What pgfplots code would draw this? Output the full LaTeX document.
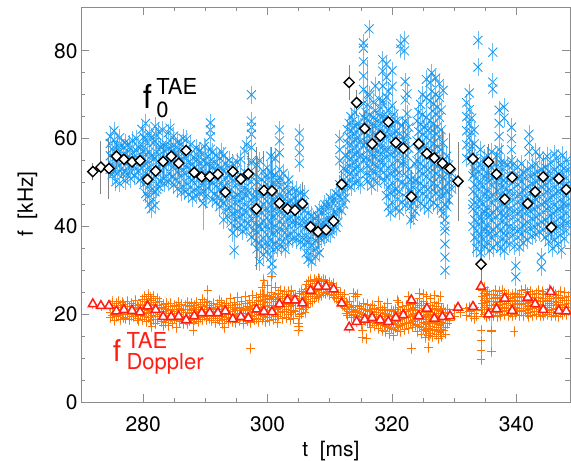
\documentclass[border=0pt]{standalone}
\usepackage{fontspec}
\setmainfont{TeX Gyre Heros}
\usepackage{pgfplots}
\usepackage{pgfplotstable}
\pgfplotsset{compat=1.18}
\definecolor{bluex}{RGB}{20,152,240}
\definecolor{blueerr}{RGB}{105,188,245}
\definecolor{orangep}{RGB}{255,115,0}
\definecolor{orangeerr}{RGB}{255,155,75}
\definecolor{redt}{RGB}{255,30,20}
\definecolor{axisgray}{RGB}{140,140,140}
\definecolor{diaerr}{RGB}{130,130,130}

\pgfdeclareplotmark{xbar}{%
  \pgfsetstrokecolor{blueerr}%
  \pgfpathmoveto{\pgfqpoint{0pt}{-9pt}}\pgfpathlineto{\pgfqpoint{0pt}{9pt}}%
  \pgfusepathqstroke
  \pgfsetstrokecolor{bluex}%
  \pgfpathmoveto{\pgfqpoint{-\pgfplotmarksize}{-\pgfplotmarksize}}%
  \pgfpathlineto{\pgfqpoint{\pgfplotmarksize}{\pgfplotmarksize}}%
  \pgfpathmoveto{\pgfqpoint{-\pgfplotmarksize}{\pgfplotmarksize}}%
  \pgfpathlineto{\pgfqpoint{\pgfplotmarksize}{-\pgfplotmarksize}}%
  \pgfusepathqstroke
}
\pgfdeclareplotmark{pbar}{%
  \pgfsetstrokecolor{orangeerr}%
  \pgfpathmoveto{\pgfqpoint{0pt}{-5.5pt}}\pgfpathlineto{\pgfqpoint{0pt}{5.5pt}}%
  \pgfusepathqstroke
  \pgfsetstrokecolor{orangep}%
  \pgfpathmoveto{\pgfqpoint{-\pgfplotmarksize}{0pt}}%
  \pgfpathlineto{\pgfqpoint{\pgfplotmarksize}{0pt}}%
  \pgfpathmoveto{\pgfqpoint{0pt}{-\pgfplotmarksize}}%
  \pgfpathlineto{\pgfqpoint{0pt}{\pgfplotmarksize}}%
  \pgfusepathqstroke
}

\pgfplotstableread{
t y1 y2 y3 y4 y5 y6
274.7 56.1 58.9 53.0 60.5 nan nan
275.0 54.2 57.6 51.8 nan nan nan
275.3 55.5 59.7 52.6 61.8 nan nan
275.6 53.4 56.8 50.2 nan nan nan
275.9 55.9 58.4 52.1 nan nan nan
276.2 54.0 57.1 49.8 60.2 nan nan
276.5 53.1 55.6 58.5 nan nan nan
276.8 51.9 54.8 57.9 nan nan nan
277.1 52.8 56.3 59.1 50.4 nan nan
277.4 54.5 57.4 52.0 nan nan nan
277.7 53.7 56.0 58.8 nan nan nan
278.0 52.4 55.2 57.7 50.9 nan nan
278.3 54.1 56.9 59.6 nan nan nan
278.6 53.2 55.8 51.5 nan nan nan
278.9 54.6 57.3 60.0 nan nan nan
279.2 52.7 55.4 58.1 nan nan nan
279.5 53.9 56.5 50.6 nan nan nan
279.8 51.2 55.0 58.3 62.1 nan nan
280.1 49.6 53.8 57.2 60.4 nan nan
280.4 47.5 52.1 56.4 59.8 63.5 nan
280.7 46.8 50.3 54.7 58.9 nan nan
281.0 45.1 49.4 53.5 57.0 61.2 nan
281.3 44.0 48.2 52.6 56.1 60.3 nan
281.6 46.2 50.8 55.3 59.1 nan nan
281.9 44.8 47.9 51.5 55.6 59.4 62.8
282.2 48.5 52.9 56.8 60.7 nan nan
282.5 49.1 53.3 57.5 61.6 nan nan
282.8 50.2 54.1 58.0 nan nan nan
283.1 51.0 54.9 58.6 62.0 nan nan
283.4 49.8 53.6 57.3 nan nan nan
283.7 51.4 55.2 58.7 nan nan nan
284.0 50.1 54.3 57.8 61.3 nan nan
284.3 52.2 56.0 59.5 62.4 nan nan
284.6 51.3 54.8 58.2 nan nan nan
284.9 49.5 53.7 57.1 60.6 nan nan
285.2 50.8 54.5 58.0 nan nan nan
285.5 48.6 52.4 56.3 59.2 nan nan
285.8 50.0 53.9 57.6 nan nan nan
286.1 47.8 51.6 55.4 58.8 nan nan
286.4 49.2 53.0 56.7 60.1 nan nan
286.7 48.0 52.0 55.9 nan nan nan
287.0 49.7 53.5 57.4 59.9 nan nan
287.3 47.3 51.1 54.6 nan nan nan
287.6 48.9 52.8 56.5 58.6 nan nan
287.9 46.5 50.5 54.2 nan nan nan
288.2 48.3 52.3 55.8 nan nan nan
288.5 47.1 51.4 54.9 57.9 nan nan
288.8 49.0 52.6 56.1 nan nan nan
289.1 47.6 51.2 54.6 57.3 nan nan
289.4 49.4 53.1 56.4 nan nan nan
289.6 45.3 nan nan nan nan nan
289.8 48.0 51.7 55.0 58.2 nan nan
290.1 46.9 50.6 54.3 nan nan nan
290.4 48.7 52.4 56.0 nan nan nan
290.8 50.3 54.8 57.6 60.4 62.0 63.6
291.1 46.2 49.9 53.5 56.9 nan nan
291.4 47.4 51.3 54.7 nan nan nan
291.7 45.6 49.2 52.8 56.2 nan nan
292.0 46.8 50.5 54.0 nan nan nan
292.3 44.5 48.4 52.2 55.5 nan nan
292.6 46.0 49.8 53.3 57.0 nan nan
292.9 41.5 45.2 48.9 52.6 56.1 nan
293.2 43.8 47.5 51.1 54.4 nan nan
293.5 42.4 46.3 50.0 53.8 nan nan
293.8 44.2 47.9 51.6 55.1 nan nan
294.1 40.8 44.6 48.4 52.0 nan nan
294.4 38.5 42.9 46.7 50.5 54.3 nan
294.6 34.6 nan nan nan nan nan
294.8 41.7 45.5 49.3 52.9 nan nan
295.1 39.6 43.4 47.2 51.0 54.7 nan
295.4 42.1 45.8 49.7 nan nan nan
295.7 40.3 44.1 47.8 51.6 55.3 nan
296.0 38.9 42.7 46.4 50.2 nan nan
296.3 41.2 45.0 48.8 52.4 57.2 nan
296.6 39.4 43.3 47.0 50.8 58.6 nan
296.9 40.7 44.5 48.1 52.0 nan nan
297.4 37.6 41.8 46.0 50.2 54.5 58.0
297.4 61.0 62.6 64.0 70.0 nan nan
297.7 39.1 43.0 46.6 nan nan nan
298.0 36.8 40.5 44.3 48.0 51.8 nan
298.3 34.9 38.7 42.6 46.4 50.1 54.0
298.7 32.0 36.2 40.1 44.0 47.7 55.0
299.0 35.5 39.3 43.1 46.9 50.7 nan
299.3 33.6 37.4 41.3 45.1 48.9 52.6
299.6 36.0 39.9 43.7 47.5 51.3 nan
299.9 34.3 38.2 42.0 45.8 49.6 53.4
300.2 35.8 39.6 43.4 47.2 51.1 nan
300.5 33.0 36.9 40.8 44.7 48.5 52.3
300.5 56.0 nan nan nan nan nan
300.7 30.0 31.5 nan nan nan nan
300.9 34.7 38.5 42.4 46.2 50.0 nan
301.2 36.3 40.2 44.0 47.9 51.7 55.5
301.5 35.1 38.9 42.8 46.6 50.4 nan
301.9 37.0 41.0 45.0 49.0 53.0 56.8
301.9 59.5 62.0 nan nan nan nan
302.2 35.4 39.2 43.1 46.9 50.8 nan
302.5 36.6 40.4 44.3 48.2 52.1 nan
302.8 34.8 38.6 42.5 46.3 nan nan
303.1 37.8 41.6 45.4 49.2 nan nan
303.4 36.5 40.3 44.1 47.9 50.6 nan
303.7 38.4 42.2 46.0 nan nan nan
304.0 37.1 40.9 44.8 48.5 nan nan
304.3 38.9 42.7 46.5 nan nan nan
304.6 36.9 40.7 44.5 48.2 nan nan
304.9 38.0 41.9 45.7 nan nan nan
305.1 54.4 56.8 59.0 61.3 nan nan
305.3 36.4 40.2 44.0 47.6 nan nan
305.6 37.5 41.4 45.1 nan nan nan
305.9 35.9 39.8 43.6 47.3 nan nan
306.2 34.0 37.6 41.2 nan nan nan
306.5 32.5 36.3 40.0 43.0 nan nan
306.8 33.8 37.4 41.1 nan nan nan
307.1 32.0 35.7 39.4 42.5 nan nan
307.4 34.6 38.2 41.8 nan nan nan
307.7 33.1 36.8 40.5 nan nan nan
308.0 35.2 38.9 42.3 nan nan nan
308.3 34.0 37.5 41.0 43.8 nan nan
308.6 37.2 40.1 43.0 nan nan nan
308.9 38.0 41.0 44.0 nan nan nan
309.2 37.5 40.6 43.6 45.0 nan nan
309.5 38.6 41.6 44.4 nan nan nan
309.8 39.0 42.0 45.2 nan nan nan
310.1 38.3 41.4 44.5 46.5 nan nan
310.4 39.5 42.5 45.6 nan nan nan
310.7 40.2 43.3 46.3 nan nan nan
311.0 39.8 42.8 45.9 47.5 nan nan
311.3 41.0 44.0 47.0 nan nan nan
311.6 44.0 46.8 49.5 55.0 57.5 60.0
311.9 43.6 46.2 49.0 nan nan nan
312.2 45.1 47.9 50.6 53.2 nan nan
312.5 46.5 49.8 52.8 56.1 nan nan
312.8 49.3 52.5 55.8 59.0 62.1 nan
313.1 50.6 53.9 57.2 60.4 63.5 nan
313.4 49.0 52.2 55.5 58.7 61.8 65.0
313.7 51.1 54.4 57.6 60.9 64.0 nan
314.0 50.0 53.2 56.5 59.8 63.0 66.0
314.3 51.8 55.0 58.3 61.5 nan nan
314.6 50.4 53.7 57.0 60.2 63.4 nan
314.9 49.5 52.8 56.1 59.4 62.6 nan
315.4 55.2 58.5 61.7 64.9 68.0 71.2
315.4 74.3 77.5 80.6 81.8 nan nan
316.3 85.0 nan nan nan nan nan
315.8 52.0 55.6 59.1 62.5 66.0 nan
316.1 50.3 53.9 57.4 60.8 64.3 67.7
316.4 51.6 55.1 58.6 62.1 65.5 70.0
316.7 49.2 52.8 56.3 59.7 63.2 nan
317.0 50.8 54.4 57.9 61.4 64.8 68.3
317.3 52.5 56.0 59.5 63.0 66.4 72.0
317.6 49.9 53.5 57.0 60.5 64.0 nan
317.9 51.3 54.9 58.4 61.9 65.3 69.0
318.2 53.0 56.6 60.1 63.6 67.0 nan
318.5 55.0 58.4 61.8 65.2 68.6 72.0
318.5 75.4 78.0 nan nan nan nan
318.8 50.5 54.1 57.6 61.0 64.5 nan
319.1 47.0 51.5 56.0 60.5 65.0 69.5
319.1 74.0 77.0 nan nan nan nan
319.4 44.5 48.8 53.2 57.6 62.0 66.4
319.4 70.8 nan nan nan nan nan
319.7 43.2 47.6 52.0 56.4 60.8 nan
320.0 45.5 49.9 54.3 58.7 63.1 67.5
320.0 71.9 75.5 nan nan nan nan
320.3 48.0 52.4 56.8 61.2 65.6 nan
320.6 44.0 48.4 52.8 57.2 61.6 64.0
320.9 46.2 50.6 55.0 59.4 63.8 nan
321.2 43.5 47.9 52.3 56.7 61.1 nan
321.4 80.4 81.7 nan nan nan nan
321.6 45.6 50.0 54.4 58.8 63.0 nan
322.0 82.5 80.0 nan nan nan nan
322.1 44.8 49.6 54.4 59.2 64.0 68.8
322.1 73.0 nan nan nan nan nan
322.4 46.5 51.3 56.1 60.9 65.7 70.2
322.7 48.2 53.0 57.8 62.6 nan nan
323.0 41.5 44.6 47.8 50.6 nan nan
323.4 42.3 45.4 48.9 nan nan nan
323.7 43.5 47.0 50.5 54.2 nan nan
324.0 46.0 50.5 55.0 59.5 64.0 nan
324.3 48.2 52.6 57.1 61.6 66.0 nan
324.6 45.3 49.8 54.3 58.8 63.3 67.8
324.9 47.5 52.0 56.5 61.0 65.5 70.0
325.2 44.6 49.1 53.6 58.1 62.6 nan
325.5 46.8 51.3 55.8 60.3 64.8 69.3
325.5 73.5 nan nan nan nan nan
325.8 43.9 48.4 52.9 57.4 61.9 nan
326.1 46.1 50.6 55.1 59.6 64.1 68.6
326.1 72.8 nan nan nan nan nan
326.4 48.3 52.8 57.3 61.8 66.3 70.8
326.4 75.0 nan nan nan nan nan
326.7 45.4 49.9 54.4 58.9 63.4 67.9
327.0 47.6 52.1 56.6 61.1 65.6 70.1
327.0 73.8 nan nan nan nan nan
327.3 44.7 49.2 53.7 58.2 62.7 67.2
327.6 46.9 51.4 55.9 60.4 64.9 69.4
327.6 72.5 nan nan nan nan nan
327.9 44.0 48.5 53.0 57.5 62.0 66.5
328.2 43.0 47.0 51.0 55.0 59.0 71.0
328.5 30.0 33.0 36.0 39.0 41.5 45.0
328.5 49.0 nan nan nan nan nan
328.8 44.5 48.0 52.0 56.0 nan nan
329.1 46.0 50.0 54.0 nan nan nan
329.6 48.5 52.0 nan nan nan nan
330.2 50.0 nan nan nan nan nan
332.0 55.5 58.6 61.8 65.0 68.2 nan
332.4 57.0 60.2 63.4 66.6 70.4 nan
332.8 55.0 58.3 61.5 64.7 nan nan
333.2 52.0 55.5 58.8 62.0 nan nan
333.8 82.4 76.3 nan nan nan nan
336.2 79.7 72.9 71.3 nan nan nan
338.0 67.2 64.7 nan nan nan nan
333.0 40.0 44.0 48.0 51.5 nan nan
333.3 37.5 41.5 45.5 49.5 53.0 nan
333.6 35.0 39.0 43.0 47.0 51.0 55.0
333.9 36.5 40.5 44.5 48.5 52.5 nan
334.2 34.0 38.0 42.0 46.0 50.0 54.0
334.2 57.5 nan nan nan nan nan
334.5 37.0 41.0 45.0 49.0 53.0 nan
334.8 35.5 39.5 43.5 47.5 51.5 55.5
335.1 38.5 42.5 46.5 50.5 54.5 nan
335.4 36.0 40.0 44.0 48.0 52.0 56.0
335.7 34.5 38.5 42.5 46.5 50.5 nan
336.0 37.5 41.5 45.5 49.5 53.5 57.0
336.3 35.2 39.2 43.2 47.2 51.2 nan
336.6 38.0 42.0 46.0 50.0 54.0 nan
336.9 36.2 40.2 44.2 48.2 52.2 56.2
337.2 57.5 60.5 63.5 66.5 nan nan
337.4 35.0 39.0 43.0 47.0 51.0 54.5
337.7 37.0 41.0 45.0 49.0 53.0 nan
338.0 34.5 38.5 42.5 46.5 50.5 54.5
338.3 36.5 40.5 44.5 48.5 nan nan
338.6 38.5 42.5 46.5 50.5 54.0 nan
338.9 36.0 40.0 44.0 48.0 52.0 nan
339.2 55.0 57.5 60.0 62.6 nan nan
339.4 38.0 42.0 46.0 50.0 54.0 nan
339.7 35.5 39.5 43.5 47.5 51.5 nan
339.9 28.5 31.0 nan nan nan nan
340.2 37.5 41.5 45.5 49.5 53.5 nan
340.5 35.3 39.3 43.3 47.3 51.3 nan
340.8 38.3 42.3 46.3 50.3 54.3 nan
341.1 36.3 40.3 44.3 48.3 52.3 nan
341.4 39.0 43.0 47.0 51.0 nan nan
341.7 37.0 41.0 45.0 49.0 53.0 nan
342.0 57.0 59.0 61.0 nan nan nan
342.2 39.5 43.5 47.5 51.5 nan nan
342.5 37.8 41.8 45.8 49.8 53.8 nan
342.8 40.0 44.0 48.0 52.0 nan nan
343.1 38.2 42.2 46.2 50.2 54.2 57.0
343.4 40.5 44.5 48.5 52.5 nan nan
343.7 38.8 42.8 46.8 50.8 56.0 nan
344.0 30.8 33.0 41.0 45.0 49.0 53.0
344.3 39.2 43.2 47.2 51.2 nan nan
344.6 37.5 41.5 45.5 49.5 53.5 nan
344.9 40.0 44.0 48.0 52.0 56.0 nan
345.2 36.5 40.5 44.5 48.5 52.5 nan
345.5 38.5 42.5 46.5 50.5 54.5 nan
345.8 35.0 39.0 43.0 47.0 51.0 nan
346.1 37.0 41.0 45.0 49.0 53.0 56.5
346.4 39.5 43.5 47.5 51.5 55.5 nan
346.7 36.0 40.0 44.0 48.0 52.0 nan
347.0 38.0 42.0 46.0 50.0 54.0 nan
347.2 34.6 nan nan nan nan nan
347.4 40.2 44.2 48.2 52.2 56.2 nan
347.7 37.2 41.2 45.2 49.2 53.2 nan
348.0 39.0 43.0 47.0 51.0 55.0 nan
348.3 41.0 45.0 49.0 53.0 nan nan
}\bluedata

\pgfplotstableread{
t y e
289.6 45.3 6
294.6 40.0 6
298.7 40.0 10
300.7 42.0 13
301.9 50.0 12
297.4 55.0 10
290.0 52.0 8
296.3 48.0 7
316.0 70.0 8
318.5 68.0 9
320.0 65.0 10
322.1 60.0 11
325.5 63.0 9
328.5 40.0 11
333.0 45.0 12
337.5 50.0 9
341.0 45.0 8
345.0 46.0 8
347.5 45.0 7
}\bluelong

\pgfplotstableread{
t y1 y2 y3 y4 y5 y6
274.8 20.5 22.0 19.2 nan nan nan
275.1 21.3 19.8 22.8 nan nan nan
275.4 20.0 21.6 18.6 nan nan nan
275.7 20.9 22.4 19.5 nan nan nan
276.0 19.7 21.1 23.0 nan nan nan
276.3 20.4 21.9 18.9 nan nan nan
276.6 21.5 20.1 22.6 nan nan nan
276.9 19.3 20.8 22.2 nan nan nan
277.2 20.6 21.8 19.0 nan nan nan
277.5 21.2 22.9 19.9 nan nan nan
277.8 20.3 21.7 18.7 nan nan nan
278.1 19.6 21.0 22.5 nan nan nan
278.4 20.7 22.1 19.4 nan nan nan
278.7 21.4 20.0 23.2 nan nan nan
279.0 19.1 20.5 22.0 nan nan nan
279.3 20.2 21.5 18.5 nan nan nan
279.6 21.0 22.3 19.7 nan nan nan
279.9 20.4 21.9 23.4 18.8 nan nan
280.2 19.5 21.2 22.8 24.0 nan nan
280.5 20.1 21.7 23.3 18.3 nan nan
280.8 19.2 20.9 22.6 24.4 nan nan
281.1 18.6 20.3 22.0 23.7 nan nan
281.4 19.8 21.5 23.1 17.2 nan nan
281.7 18.9 20.6 22.3 24.0 nan nan
282.0 19.4 21.1 22.7 17.8 nan nan
282.3 18.7 20.4 22.1 23.6 nan nan
282.6 19.9 21.4 22.9 nan nan nan
282.9 18.4 20.0 21.6 nan nan nan
283.2 19.0 20.7 22.3 17.5 nan nan
283.5 18.2 19.8 21.3 nan nan nan
283.8 19.4 21.0 22.4 nan nan nan
284.1 18.6 20.2 21.8 17.4 nan nan
284.4 19.3 20.9 22.5 nan nan nan
284.7 18.0 19.6 21.2 nan nan nan
285.0 19.1 20.6 22.1 nan nan nan
285.3 18.5 20.1 21.7 17.0 nan nan
285.6 19.6 21.1 22.6 nan nan nan
285.9 18.3 19.9 21.4 nan nan nan
286.2 19.2 20.8 22.3 nan nan nan
286.5 17.8 19.4 21.0 nan nan nan
286.8 18.8 20.4 21.9 nan nan nan
287.1 17.9 19.5 21.1 22.6 nan nan
287.4 18.6 20.2 21.7 nan nan nan
287.7 19.3 20.9 22.4 nan nan nan
288.0 18.1 19.7 21.3 16.4 nan nan
288.3 18.9 20.5 22.0 nan nan nan
288.6 19.5 21.0 22.6 nan nan nan
288.9 18.4 20.0 21.5 nan nan nan
289.2 19.2 20.7 22.2 nan nan nan
289.5 18.7 20.3 21.8 23.3 nan nan
289.8 19.6 21.2 22.7 nan nan nan
290.1 18.8 20.4 21.9 nan nan nan
290.4 19.9 21.5 23.0 25.5 nan nan
290.7 19.0 20.6 22.1 nan nan nan
291.0 18.5 20.1 21.6 nan nan nan
291.3 19.4 21.0 22.5 nan nan nan
291.6 18.2 19.8 21.4 nan nan nan
291.9 19.1 20.7 22.2 nan nan nan
292.2 18.6 20.2 21.7 23.2 nan nan
292.5 19.5 21.1 22.6 nan nan nan
292.8 18.0 19.6 21.2 nan nan nan
293.1 16.9 18.8 20.4 22.0 nan nan
293.4 19.3 20.9 22.4 nan nan nan
293.7 18.4 20.0 21.5 nan nan nan
294.0 19.0 20.6 22.1 23.6 nan nan
294.3 18.3 19.9 21.5 nan nan nan
294.6 19.6 21.2 22.7 nan nan nan
294.9 18.1 19.7 21.3 nan nan nan
295.2 19.2 20.8 22.3 23.8 nan nan
295.5 18.5 20.1 21.6 nan nan nan
295.8 19.7 21.3 22.9 nan nan nan
296.1 18.0 19.6 21.1 nan nan nan
296.4 19.3 20.9 22.5 24.0 nan nan
296.7 18.6 20.2 21.8 nan nan nan
297.0 19.9 21.5 23.1 nan nan nan
297.2 12.3 nan nan nan nan nan
297.3 18.2 19.8 21.4 nan nan nan
297.6 19.4 21.0 22.6 24.2 nan nan
297.9 18.8 20.4 22.0 nan nan nan
298.2 19.1 20.7 22.3 23.9 nan nan
298.5 18.4 20.0 21.6 23.2 nan nan
298.8 19.7 21.3 22.9 24.5 nan nan
299.1 18.9 20.6 22.3 24.0 26.0 nan
299.4 19.5 21.2 22.9 24.6 27.8 nan
299.7 18.3 20.0 21.7 23.4 nan nan
300.0 19.2 20.9 22.6 24.3 26.5 nan
300.3 18.6 20.3 22.0 23.7 nan nan
300.6 19.9 21.6 23.3 25.0 28.5 nan
300.9 18.7 20.4 22.1 23.8 nan nan
301.2 19.4 21.1 22.8 24.5 26.2 nan
301.5 18.2 19.9 21.6 23.3 nan nan
301.8 19.6 21.3 23.0 24.7 nan nan
302.1 20.3 22.0 23.7 25.5 nan nan
302.4 19.0 20.7 22.4 24.1 nan nan
302.7 20.6 22.3 24.0 25.2 nan nan
303.0 19.3 21.0 22.7 24.4 nan nan
303.3 20.0 21.7 23.4 25.1 nan nan
303.6 18.8 20.5 22.2 23.9 nan nan
303.9 20.4 22.1 23.8 25.5 nan nan
304.2 19.1 20.8 22.5 24.2 nan nan
304.5 20.7 22.4 24.1 nan nan nan
304.9 16.4 17.3 18.0 nan nan nan
305.1 19.6 21.3 23.0 24.7 nan nan
305.4 20.2 21.9 23.6 25.3 nan nan
305.7 21.0 22.7 24.4 nan nan nan
306.0 20.5 22.2 23.9 25.6 nan nan
306.3 21.6 23.3 25.0 26.7 nan nan
306.6 22.4 24.1 25.8 27.4 nan nan
306.9 23.0 24.7 26.4 27.8 nan nan
307.2 22.8 24.5 26.2 nan nan nan
307.5 23.5 25.2 26.9 28.0 nan nan
307.8 24.1 25.8 27.4 nan nan nan
308.1 23.8 25.5 27.1 28.2 nan nan
308.4 24.6 26.2 27.8 nan nan nan
308.7 24.3 25.9 27.5 nan nan nan
309.0 25.0 26.6 27.9 nan nan nan
309.3 24.7 26.3 27.6 nan nan nan
309.6 25.2 26.8 nan nan nan nan
309.9 24.4 26.0 27.3 nan nan nan
310.2 25.1 26.5 nan nan nan nan
310.5 24.2 25.7 27.0 nan nan nan
310.8 23.9 25.4 nan nan nan nan
311.1 23.5 24.9 26.1 nan nan nan
311.4 23.0 24.4 nan nan nan nan
311.7 22.6 24.0 25.0 nan nan nan
312.0 22.1 23.5 nan nan nan nan
312.3 21.7 23.0 24.6 nan nan nan
312.6 21.3 22.6 20.2 nan nan nan
312.9 21.0 22.2 19.8 nan nan nan
313.2 20.6 21.8 23.0 nan nan nan
313.5 20.3 21.5 19.3 nan nan nan
313.8 20.0 21.2 24.8 nan nan nan
314.1 19.7 20.9 24.0 nan nan nan
314.4 19.4 20.6 22.0 24.5 nan nan
314.7 19.2 20.4 21.7 nan nan nan
315.0 18.9 20.1 21.4 17.6 nan nan
315.2 14.8 16.2 nan nan nan nan
315.4 18.7 19.9 21.2 22.5 nan nan
315.7 18.5 19.7 21.0 nan nan nan
315.9 14.5 nan nan nan nan nan
316.0 18.3 19.5 20.8 22.2 nan nan
316.3 18.2 19.4 20.7 nan nan nan
316.6 17.0 18.4 19.8 21.2 nan nan
316.9 18.1 19.3 20.6 22.0 nan nan
317.2 17.4 18.6 19.9 21.3 nan nan
317.5 18.0 19.2 20.5 nan nan nan
317.8 16.8 18.2 19.6 21.0 22.8 nan
318.1 17.7 19.0 20.3 21.6 nan nan
318.4 16.4 18.0 19.4 20.8 nan nan
318.7 17.5 18.9 20.2 21.5 nan nan
319.0 16.0 17.4 18.8 20.1 nan nan
319.3 17.2 18.6 19.9 21.2 22.5 nan
319.6 15.6 17.0 18.4 19.8 nan nan
319.9 16.8 18.2 19.6 20.9 nan nan
320.2 15.2 16.6 18.0 19.4 20.7 nan
320.5 17.0 18.4 19.8 21.1 nan nan
320.8 16.2 17.6 19.0 20.4 23.2 nan
321.1 17.3 18.7 20.1 21.5 22.6 nan
321.4 16.0 17.4 18.8 20.2 nan nan
321.7 17.6 19.0 20.4 21.8 nan nan
322.0 16.5 17.9 19.3 20.7 nan nan
322.3 17.8 19.2 20.6 22.0 nan nan
322.6 16.8 18.2 19.6 21.0 24.0 nan
322.9 18.0 19.4 20.8 22.2 nan nan
323.1 12.1 nan nan nan nan nan
323.2 17.1 18.5 19.9 21.3 nan nan
323.5 18.3 19.7 21.1 22.5 nan nan
323.8 17.4 18.8 20.2 21.6 nan nan
324.1 16.0 17.6 19.2 20.8 22.4 nan
324.4 17.2 18.8 20.4 22.0 23.6 24.8
324.7 15.5 17.1 18.7 20.3 21.9 nan
325.0 16.6 18.2 19.8 21.4 23.0 24.6
325.3 14.8 16.4 18.0 19.6 21.2 nan
325.6 16.0 17.6 19.2 20.8 22.4 24.0
325.9 12.5 15.2 16.8 18.4 20.0 nan
326.2 15.6 17.2 18.8 20.4 22.0 23.6
326.5 14.9 16.5 18.1 19.7 21.3 nan
326.8 16.3 17.9 19.5 21.1 22.7 24.3
327.1 15.3 16.9 18.5 20.1 21.7 nan
327.4 14.5 16.1 17.7 19.3 20.9 22.5
327.7 15.8 17.4 19.0 20.6 24.0 nan
328.0 15.0 16.6 18.2 19.8 21.4 nan
328.3 16.4 18.0 19.6 21.2 nan nan
328.6 15.5 17.1 18.7 20.3 nan nan
328.9 17.8 19.4 21.0 nan nan nan
329.3 18.5 20.2 nan nan nan nan
330.0 19.6 21.0 nan nan nan nan
331.0 20.4 nan nan nan nan nan
332.0 19.8 21.3 nan nan nan nan
332.4 20.6 21.6 nan nan nan nan
332.8 19.4 20.9 nan nan nan nan
333.2 20.2 21.5 19.0 nan nan nan
333.6 20.8 19.6 nan nan nan nan
334.3 16.4 14.1 11.8 9.6 nan nan
334.5 21.0 22.5 24.0 25.5 nan nan
334.8 20.0 21.6 23.2 24.8 26.2 nan
335.1 19.4 21.0 22.6 24.2 nan nan
335.4 20.3 21.9 23.5 25.1 nan nan
335.7 19.6 21.2 22.8 24.4 nan nan
336.0 16.4 11.6 20.5 22.1 23.7 nan
336.3 19.8 21.4 23.0 24.6 nan nan
336.6 20.7 22.3 23.9 25.5 nan nan
336.9 19.5 21.1 22.7 24.3 nan nan
337.2 20.4 22.0 23.6 25.2 nan nan
337.5 19.7 21.3 22.9 nan nan nan
337.8 20.6 22.2 23.8 25.4 nan nan
338.1 19.9 21.5 23.1 24.7 nan nan
338.4 20.9 22.5 24.1 nan nan nan
338.7 19.8 21.4 23.0 24.6 nan nan
339.0 20.5 22.1 23.7 nan nan nan
339.3 19.6 21.2 22.8 24.4 nan nan
339.6 16.0 20.7 22.3 23.9 nan nan
339.9 19.9 21.5 23.1 24.7 nan nan
340.2 20.8 22.4 24.0 nan nan nan
340.5 19.7 21.3 22.9 24.5 nan nan
340.8 20.6 22.2 23.8 25.4 nan nan
341.1 19.8 21.4 23.0 nan nan nan
341.4 20.9 22.5 24.1 25.7 nan nan
341.7 20.1 21.7 23.3 24.9 nan nan
342.0 19.5 21.1 22.7 nan nan nan
342.3 20.4 22.0 23.6 25.2 nan nan
342.6 19.8 21.4 23.0 24.6 nan nan
342.9 20.7 22.3 23.9 nan nan nan
343.2 19.9 21.5 23.1 24.7 nan nan
343.5 20.6 22.2 23.8 25.4 nan nan
343.8 19.6 21.2 22.8 nan nan nan
344.1 20.3 21.9 23.5 25.1 nan nan
344.4 19.7 21.3 22.9 24.5 nan nan
344.7 20.5 22.1 23.7 nan nan nan
345.0 19.9 21.5 23.1 24.7 nan nan
345.3 20.8 22.4 24.0 25.6 nan nan
345.6 19.6 21.2 22.8 nan nan nan
345.9 20.4 22.0 23.6 25.2 nan nan
346.2 19.8 21.4 23.0 24.6 nan nan
346.5 20.6 22.2 23.8 nan nan nan
346.8 19.5 21.1 22.7 24.3 nan nan
347.1 20.3 21.9 23.5 25.1 nan nan
347.4 19.9 21.5 23.1 nan nan nan
347.7 20.7 22.3 23.9 24.9 nan nan
348.0 20.0 21.6 23.2 nan nan nan
348.3 20.8 22.4 24.0 nan nan nan
}\orangedata

\pgfplotstableread{
t y e
288.1 18.0 3
299.4 24.0 4
300.6 24.0 5
305.1 20.0 4
313.8 22.0 4
336.0 16.0 5
326.0 18.0 4
}\orangelong

\pgfplotstableread{
t y e
271.9 52.5 2
273.2 53.5 6
274.5 53.2 7
275.7 56.0 3
276.9 55.3 2
278.2 54.7 3
279.5 55.0 3
280.7 50.7 3
282.0 52.6 5
283.2 54.8 4
284.5 56.0 3
285.7 54.4 3
286.9 57.3 3
288.2 52.3 3
289.4 51.3 4
290.7 51.4 3
292.0 51.9 4
293.2 47.8 5
294.4 52.5 4
295.7 50.8 6
296.9 52.0 5
298.2 44.0 14
299.4 48.2 9
300.7 48.1 10
301.9 45.3 5
303.2 44.0 4
304.4 43.7 4
305.6 45.2 5
306.9 39.9 3
308.1 38.8 4
309.4 39.2 3
310.6 41.2 3
311.9 49.6 3
313.1 72.8 4
314.3 68.2 3
315.6 62.3 4
316.8 58.8 5
318.1 60.6 6
319.4 63.8 4
320.6 59.1 6
321.8 57.8 6
323.1 46.8 6
324.3 58.8 5
325.6 56.6 8
326.8 55.6 8
328.1 54.4 8
329.3 53.2 8
330.6 50.3 9
333.0 55.4 4
334.3 31.4 12
335.5 54.7 4
336.8 51.9 5
338.1 46.2 4
339.3 51.2 5
341.8 45.2 4
343.0 47.9 5
344.3 51.3 5
345.6 39.8 3
346.8 50.9 4
348.0 48.4 5
}\diadata

\pgfplotstableread{
t y
271.9 22.3
273.2 21.9
274.5 21.9
275.7 20.7
276.9 21.0
278.2 20.8
279.5 20.5
280.7 21.8
282.0 21.0
283.2 19.4
284.5 19.4
285.7 19.5
286.9 18.7
288.2 19.6
289.4 20.3
290.7 20.3
292.0 20.3
293.2 20.7
294.4 18.9
295.7 19.4
296.9 19.1
298.2 21.1
299.4 20.6
300.7 20.5
301.9 22.3
303.2 23.2
304.4 23.2
305.6 22.5
306.9 25.4
308.1 26.3
309.4 26.3
310.6 25.7
311.9 22.5
313.1 17.0
314.3 18.3
315.6 18.8
316.8 19.2
318.1 18.7
319.4 18.3
320.6 19.2
321.8 19.8
323.1 23.2
324.3 19.6
325.6 21.3
326.8 19.0
328.1 19.4
329.3 19.6
330.6 21.5
333.0 21.7
334.3 26.3
335.5 20.0
336.8 21.2
338.1 23.6
339.3 20.8
341.8 23.8
343.0 22.3
344.3 21.0
345.5 25.1
346.8 20.8
348.0 20.7
}\tridata

\begin{document}
\begin{tikzpicture}
\path[use as bounding box] (-81pt,-59pt) rectangle (490pt,402pt);
\begin{axis}[
  at={(0pt,0pt)}, anchor=south west,
  scale only axis, width=489pt, height=395pt,
  xmin=270, xmax=348.6, ymin=0, ymax=90,
  xtick={280,300,320,340}, minor x tick num=3,
  ytick={0,20,40,60,80}, minor y tick num=3,
  tick align=inside,
  major tick length=8pt, minor tick length=4.5pt,
  axis line style={draw=axisgray, line width=0.9pt},
  tick style={draw=axisgray, line width=0.9pt},
  /pgf/number format/assume math mode=true,
  ticklabel style={font=\fontsize{21}{25}\selectfont, text=black},
  xticklabel style={yshift=-11pt},
  xlabel={t\ \ [ms]},
  ylabel={f\ \ [kHz]},
  xlabel style={font=\fontsize{21}{25}\selectfont, at={(axis description cs:0.511,0)}, anchor=base, yshift=-54pt},
  ylabel style={font=\fontsize{21}{25}\selectfont, at={(axis description cs:-0.0982,0.501)}, anchor=base},
  clip=true,
]
% blue long error bars
\addplot[only marks, mark=xbar, mark size=4.5pt, line width=0.8pt,
  error bars/.cd, y dir=both, y explicit, error mark=none,
  error bar style={color=blueerr, line width=0.7pt}]
  table[x=t, y=y, y error=e]{\bluelong};
% blue crosses (cross with its vertical error line)
\pgfplotsinvokeforeach{1,...,6}{
\addplot[only marks, mark=xbar, mark size=4.5pt, line width=0.8pt]
  table[x=t, y=y#1]{\bluedata};
}
% orange long error bars
\addplot[only marks, mark=pbar, mark size=4.4pt, line width=0.9pt,
  error bars/.cd, y dir=both, y explicit, error mark=none,
  error bar style={color=orangeerr, line width=0.7pt}]
  table[x=t, y=y, y error=e]{\orangelong};
% orange plus
\pgfplotsinvokeforeach{1,...,6}{
\addplot[only marks, mark=pbar, mark size=4.4pt, line width=0.9pt]
  table[x=t, y=y#1]{\orangedata};
}
% diamonds
\addplot[only marks, mark=square*, mark size=3.6pt,
  mark options={rotate=45, draw=black, fill=white, line width=1.4pt},
  error bars/.cd, y dir=both, y explicit, error mark=none,
  error bar style={color=diaerr, line width=1pt}]
  table[x=t, y=y, y error=e]{\diadata};
% triangles
\addplot[only marks, mark=triangle*, mark size=5.2pt,
  mark options={draw=redt, fill=white, line width=1.5pt},
  error bars/.cd, y dir=both, y fixed=1.2, error mark=none,
  error bar style={color=redt!60, line width=0.8pt}]
  table[x=t, y=y]{\tridata};
% annotations
\node[anchor=base west, inner sep=0pt, font=\fontsize{33}{33}\selectfont] at (axis cs:279.9,66.9) {f};
\node[anchor=base west, inner sep=0pt, font=\fontsize{22}{22}\selectfont] at (axis cs:282.1,70.1) {TAE};
\node[anchor=base west, inner sep=0pt, font=\fontsize{22}{22}\selectfont] at (axis cs:282.1,64.9) {0};
\node[anchor=base west, inner sep=0pt, text=redt, font=\fontsize{30}{30}\selectfont] at (axis cs:275.1,9.2) {f};
\node[anchor=base west, inner sep=0pt, text=redt, font=\fontsize{22}{22}\selectfont] at (axis cs:277.3,12.2) {TAE};
\node[anchor=base west, inner sep=0pt, text=redt, font=\fontsize{22}{22}\selectfont] at (axis cs:277.3,7.5) {Doppler};
\end{axis}
\end{tikzpicture}
\end{document}
